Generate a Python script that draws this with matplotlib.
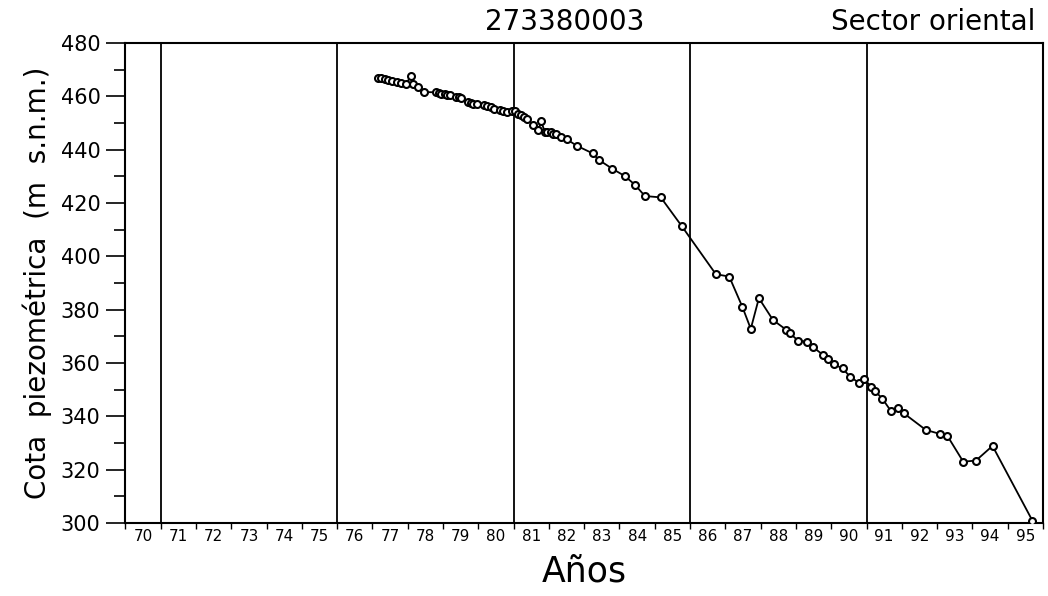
import numpy as np
import matplotlib.pyplot as plt
from matplotlib.ticker import MultipleLocator, FixedLocator, NullFormatter

# fechas (año decimal) y cota piezometrica (m s.n.m.) del pozo 273380003
years = [1977.15, 1977.25, 1977.35, 1977.45, 1977.55, 1977.70, 1977.80, 1977.95,
         1978.08, 1978.15, 1978.30, 1978.45, 1978.80, 1978.88, 1978.95, 1979.05,
         1979.12, 1979.20, 1979.38, 1979.45, 1979.52, 1979.70, 1979.78, 1979.86,
         1979.95, 1980.15, 1980.25, 1980.35, 1980.45, 1980.60, 1980.70, 1980.80,
         1980.95, 1981.05, 1981.12, 1981.20, 1981.30, 1981.38, 1981.55, 1981.70,
         1981.78, 1981.88, 1981.95, 1982.05, 1982.12, 1982.20, 1982.35, 1982.50,
         1982.80, 1983.24, 1983.42, 1983.80, 1984.15, 1984.44, 1984.72, 1985.17,
         1985.76, 1986.73, 1987.11, 1987.48, 1987.72, 1987.95, 1988.35, 1988.73,
         1988.83, 1989.06, 1989.32, 1989.49, 1989.77, 1989.91, 1990.07, 1990.32,
         1990.53, 1990.79, 1990.93, 1991.14, 1991.23, 1991.45, 1991.69, 1991.88,
         1992.06, 1992.68, 1993.08, 1993.29, 1993.74, 1994.10, 1994.57, 1995.70]
levels = [467.0, 466.8, 466.5, 466.1, 465.7, 465.2, 464.9, 464.5,
          467.5, 464.6, 463.6, 461.6, 461.5, 461.3, 461.0, 460.8,
          460.6, 460.4, 459.9, 459.6, 459.3, 458.0, 457.6, 457.3,
          457.0, 456.6, 456.2, 455.9, 455.3, 454.7, 454.4, 454.0,
          454.6, 454.5, 453.5, 453.0, 452.2, 451.5, 449.4, 447.4,
          450.6, 446.8, 446.8, 446.5, 446.0, 445.8, 444.6, 443.9,
          441.4, 438.6, 436.1, 432.8, 430.1, 426.8, 422.6, 422.1,
          411.4, 393.3, 392.4, 381.1, 372.8, 384.3, 376.1, 372.4,
          371.1, 368.4, 368.0, 365.9, 363.0, 361.4, 359.5, 358.0,
          354.9, 352.5, 353.9, 351.1, 349.6, 346.6, 342.0, 343.0,
          341.1, 334.9, 333.4, 332.7, 323.0, 323.4, 328.9, 300.9]

year_labels = [str(y % 100) for y in range(1970, 1996)]
vlines = [1971, 1976, 1981, 1986, 1991]

fig = plt.figure(figsize=(10.48, 5.96), dpi=100)
ax = fig.add_axes([0.1197, 0.1225, 0.8755, 0.8054])

for v in vlines:
    ax.axvline(v, color='black', lw=1.3, zorder=1)

ax.plot(years, levels, color='black', lw=1.3, marker='o', ms=5,
        mfc='white', mec='black', mew=1.5, zorder=3)

ax.set_xlim(1970, 1996)
ax.set_ylim(300, 480)

# eje x: marcas en los limites de cada año, etiquetas centradas
ax.xaxis.set_major_locator(MultipleLocator(1))
ax.xaxis.set_major_formatter(NullFormatter())
ax.xaxis.set_minor_locator(FixedLocator([y + 0.5 for y in range(1970, 1996)]))
ax.set_xticklabels(year_labels, minor=True, fontsize=11)
ax.tick_params(axis='x', which='major', direction='out', length=4, width=1)
ax.tick_params(axis='x', which='minor', length=0, pad=4)

# eje y
ax.yaxis.set_major_locator(MultipleLocator(20))
ax.yaxis.set_minor_locator(MultipleLocator(10))
ax.tick_params(axis='y', which='major', direction='out', length=14, width=1.2,
               labelsize=15, pad=4)
ax.tick_params(axis='y', which='minor', direction='out', length=8, width=1.2)

for s in ax.spines.values():
    s.set_linewidth(1.5)

ax.set_ylabel('Cota  piezométrica  (m  s.n.m.)', fontsize=20, labelpad=6)
ax.set_xlabel('Años', fontsize=25, labelpad=8)

fig.text(0.539, 0.963, '273380003', fontsize=20, ha='center', va='center')
fig.text(0.988, 0.963, 'Sector oriental', fontsize=20, ha='right', va='center')

fig.savefig('out.png', dpi=100)
